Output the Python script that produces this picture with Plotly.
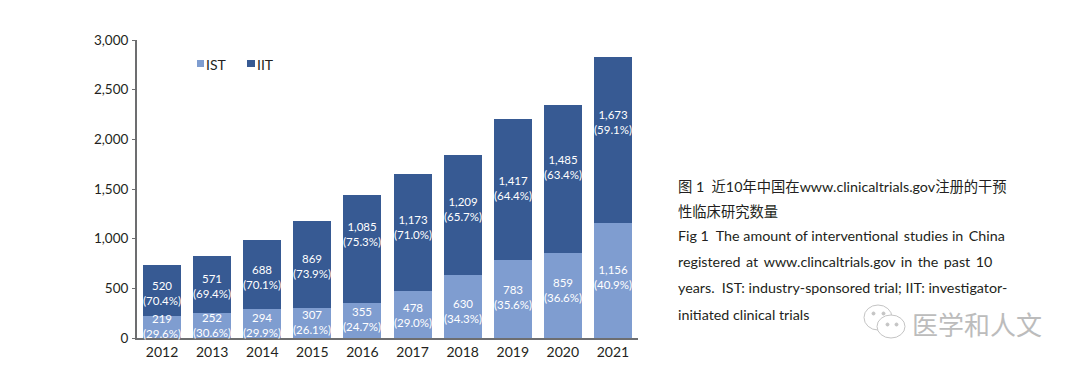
import plotly.graph_objects as go

years = ["2012","2013","2014","2015","2016","2017","2018","2019","2020","2021"]
ist = [219,252,294,307,355,478,630,783,859,1156]
iit = [520,571,688,869,1085,1173,1209,1417,1485,1673]
ist_pct = ["29.6","30.6","29.9","26.1","24.7","29.0","34.3","35.6","36.6","40.9"]
iit_pct = ["70.4","69.4","70.1","73.9","75.3","71.0","65.7","64.4","63.4","59.1"]
y_ticks = [0,500,1000,1500,2000,2500,3000]
y_labels = ["0","500","1,000","1,500","2,000","2,500","3,000"]
caption_lines = [
    "图 1  近10年中国在www.clinicaltrials.gov注册的干预",
    "性临床研究数量",
    "Fig 1  The amount of interventional\u2009 studies in\u2009 China",
    "registered \u2009at \u2009www.clincaltrials.gov \u2009in \u2009the \u2009past \u200910",
    "years.  IST: industry-sponsored trial; IIT: investigator-",
    "initiated clinical trials",
]
caption_y = [186,211,236,261,287,314]
watermark = "医学和人文"
COL_IST = "#7f9dd0"
COL_IIT = "#375a93"

# pixel nudges of the hand-placed value labels, upward from each segment's centre
ist_label_shift = [1.4,0.2,-1.9,0.6,1.4,-1.2,-4.3,2.1,5.3,3.6]
iit_label_shift = [-2.1,-1.7,-1.9,-1.5,14.8,4.8,5.9,1.8,11.9,18.1]

FONT = "Lato, 'Noto Sans CJK SC', sans-serif"
OFF = 8                      # page body margin
W, H = 1072, 362
L, R, T, B = 137-OFF, 638-OFF, 40-OFF, 338-OFF

def px(x): return (x-OFF-L)/(R-L)
def py(y): return (B-(y-OFF))/(B-T)
def lab(v, p): return f"{v:,}<br>({p}%)"

fig = go.Figure()
fig.add_bar(x=years, y=ist, name="IST", marker=dict(color=COL_IST, line=dict(width=0)), showlegend=False)
fig.add_bar(x=years, y=iit, name="IIT", marker=dict(color=COL_IIT, line=dict(width=0)), showlegend=False)

fig.update_layout(
    barmode="stack", bargap=0.24, width=W, height=H, autosize=False,
    margin=dict(l=L, r=W-R, t=T, b=H-B, pad=0),
    paper_bgcolor="white", plot_bgcolor="white",
    font=dict(family=FONT, size=14, color="#231f20"),
    showlegend=False,
    xaxis=dict(type="category", categoryorder="array", categoryarray=years, range=[-0.5, len(years)-0.5],
               showgrid=False, ticks="", showline=True, linecolor="#6d6e70",
               linewidth=2, tickfont=dict(size=14), zeroline=False, ticklabelstandoff=0, automargin=False),
    yaxis=dict(range=[0,3000], tickvals=y_ticks, ticktext=y_labels, showgrid=False, ticks="outside",
               ticklen=3, tickcolor="#6d6e70", showline=True, linecolor="#6d6e70", linewidth=2,
               tickfont=dict(size=13.5), zeroline=False, ticklabelstandoff=1, automargin=False),
)

# value labels, placed through the data axes
for i, (a, b, ap, bp, sa, sb) in enumerate(zip(ist, iit, ist_pct, iit_pct, ist_label_shift, iit_label_shift)):
    for centre, v, p, s in ((a/2, a, ap, sa), (a+b/2, b, bp, sb)):
        fig.add_annotation(x=i, y=centre, text=lab(v, p), showarrow=False, yshift=s,
                           xanchor="center", yanchor="middle", borderpad=0,
                           font=dict(family=FONT, size=11.5, color="#ffffff"))

def txt(x, y, s, size=14, color="#231f20", family=FONT):
    fig.add_annotation(xref="paper", yref="paper", x=px(x), y=py(y), text=s, showarrow=False,
                       xanchor="left", yanchor="middle", borderpad=0, borderwidth=0,
                       font=dict(family=family, size=size, color=color))

def rect(x0, y0, x1, y1, color):
    fig.add_shape(type="rect", xref="paper", yref="paper", x0=px(x0), x1=px(x1), y0=py(y0), y1=py(y1),
                  fillcolor=color, line=dict(width=0), layer="above")

def oval(x0, y0, x1, y1, fill, line="#c4c4c4"):
    fig.add_shape(type="circle", xref="paper", yref="paper", x0=px(x0), x1=px(x1), y0=py(y0), y1=py(y1),
                  fillcolor=fill, line=dict(width=1, color=line), layer="above")

# legend
rect(197, 60, 204, 67, COL_IST)
txt(206, 64, "IST")
rect(247, 60, 255, 67, COL_IIT)
txt(257, 64, "IIT")

# caption
for line, yp in zip(caption_lines, caption_y):
    txt(678, yp, line, size=14.3)

# watermark
oval(864, 305, 892, 330, "white")
oval(877, 315, 905, 338, "white")
for ex, ey in [(872,312),(882,312),(886,323),(895,323)]:
    oval(ex, ey, ex+3, ey+3, "#c4c4c4", "#c4c4c4")
txt(912, 323, watermark, size=26, color="#bcbcbc", family="'Noto Sans CJK SC'")

fig.write_html("out.html")
